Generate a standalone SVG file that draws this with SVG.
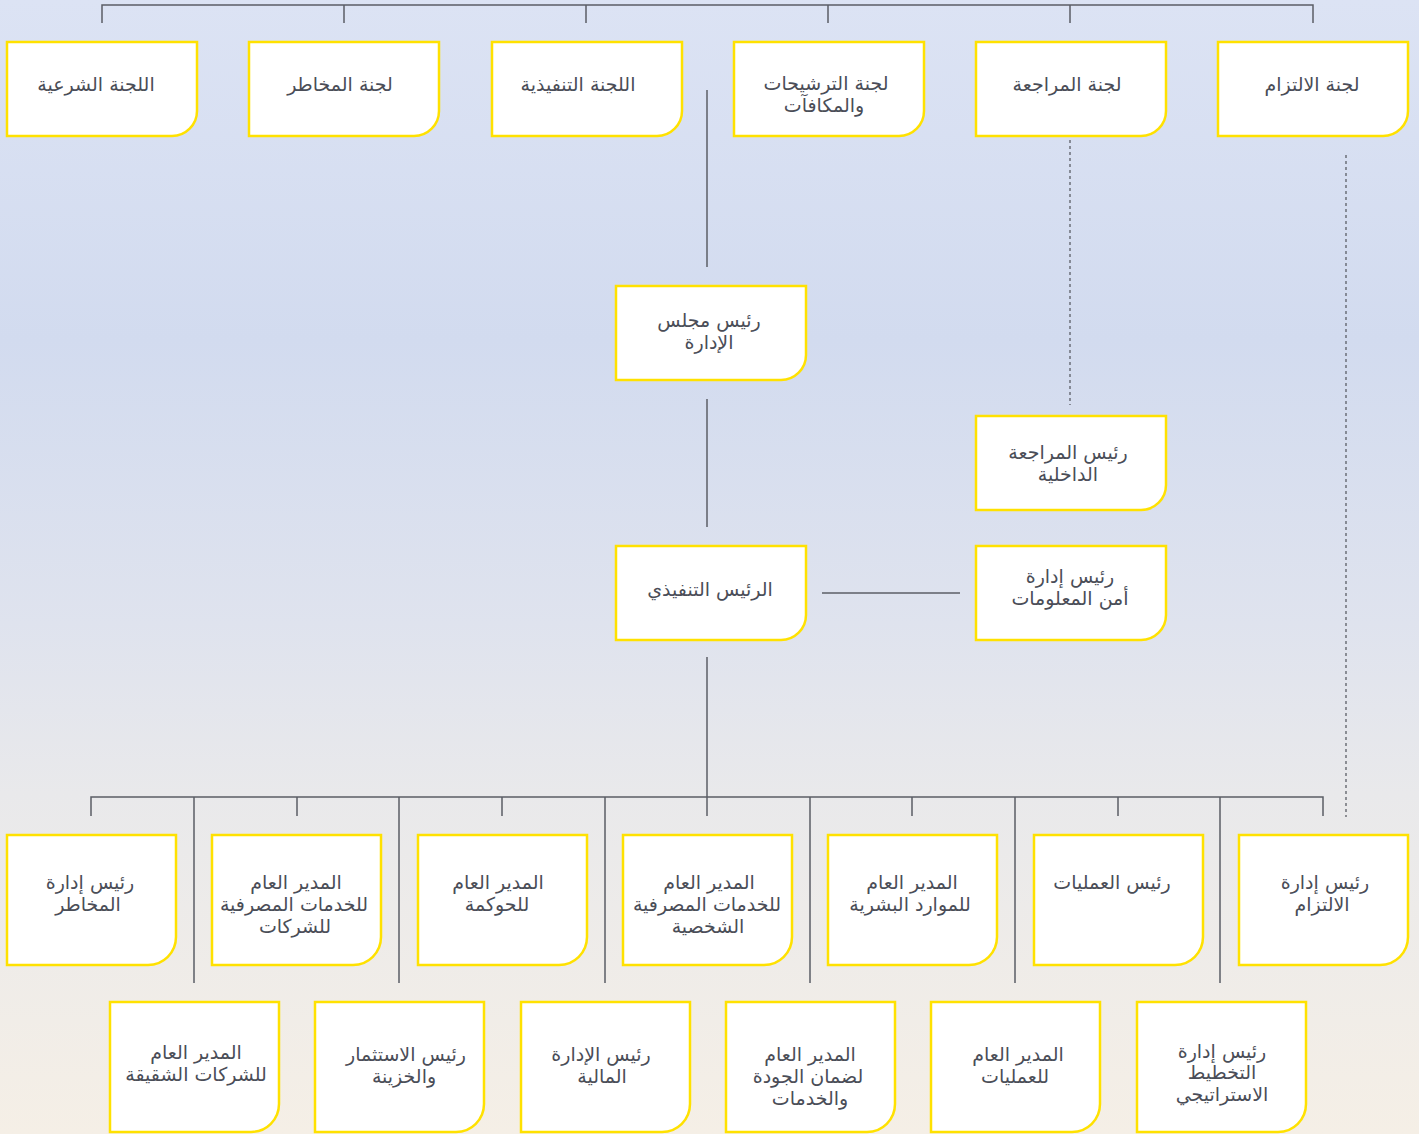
<svg xmlns="http://www.w3.org/2000/svg" xmlns:xlink="http://www.w3.org/1999/xlink" width="1419" height="1134" viewBox="0 0 1419 1134">
<style>
.box{fill:#ffffff;stroke:#ffe100;stroke-width:2.5}
.t{font-family:"DejaVu Sans","Noto Sans",sans-serif;font-size:19px;fill:#4a4d57;text-anchor:middle;direction:rtl}
.ln{fill:none;stroke:#5b5e66;stroke-width:1.5}
.dl{fill:none;stroke:#5b5e66;stroke-width:1.3;stroke-dasharray:3 3}
</style>
<defs>
<linearGradient id="bg" x1="0" y1="0" x2="0" y2="1">
<stop offset="0" stop-color="#dce3f4"/>
<stop offset="0.3" stop-color="#d2dbef"/>
<stop offset="0.55" stop-color="#dfe3ee"/>
<stop offset="0.7" stop-color="#e9e9eb"/>
<stop offset="1" stop-color="#f5efe6"/>
</linearGradient>
<path id="bA" d="M0,0 H190 V69 A25,25 0 0 1 165,94 H0 Z"/>
<path id="bB" d="M0,0 H169 V102 A28,28 0 0 1 141,130 H0 Z"/>
</defs>
<rect width="1419" height="1134" fill="url(#bg)"/>

<g id="connectors">
<path class="ln" d="M102,23 V5 H1313 V23 M344,5 V23 M586,5 V23 M828,5 V23 M1070,5 V23"/>
<path class="ln" d="M707,90 V267"/>
<path class="ln" d="M707,399 V527"/>
<path class="ln" d="M822,593 H960"/>
<path class="ln" d="M707,657 V816"/>
<path class="ln" d="M91,816 V797 H1323 V816 M297,797 V816 M502,797 V816 M912,797 V816 M1118,797 V816"/>
<path class="ln" d="M194,797 V983 M399,797 V983 M605,797 V983 M810,797 V983 M1015,797 V983 M1220,797 V983"/>
<path class="dl" d="M1070,140 V405"/>
<path class="dl" d="M1346,155 V817"/>
</g>

<g id="n-sharia"><use xlink:href="#bA" class="box" x="7" y="42"/><text class="t" x="96" y="91">اللجنة الشرعية</text></g>
<g id="n-risk-committee"><use xlink:href="#bA" class="box" x="249" y="42"/><text class="t" x="340" y="91">لجنة المخاطر</text></g>
<g id="n-executive-committee"><use xlink:href="#bA" class="box" x="492" y="42"/><text class="t" x="578" y="91">اللجنة التنفيذية</text></g>
<g id="n-nominations"><use xlink:href="#bA" class="box" x="734" y="42"/><text class="t" x="826" y="90">لجنة الترشيحات</text><text class="t" x="824" y="112">والمكافآت</text></g>
<g id="n-audit-committee"><use xlink:href="#bA" class="box" x="976" y="42"/><text class="t" x="1067" y="91">لجنة المراجعة</text></g>
<g id="n-compliance-committee"><use xlink:href="#bA" class="box" x="1218" y="42"/><text class="t" x="1312" y="91">لجنة الالتزام</text></g>

<g id="n-chairman"><use xlink:href="#bA" class="box" x="616" y="286"/><text class="t" x="709" y="327">رئيس مجلس</text><text class="t" x="709" y="349">الإدارة</text></g>
<g id="n-ceo"><use xlink:href="#bA" class="box" x="616" y="546"/><text class="t" x="710" y="596">الرئيس التنفيذي</text></g>
<g id="n-internal-audit"><use xlink:href="#bA" class="box" x="976" y="416"/><text class="t" x="1068" y="459">رئيس المراجعة</text><text class="t" x="1068" y="481">الداخلية</text></g>
<g id="n-infosec"><use xlink:href="#bA" class="box" x="976" y="546"/><text class="t" x="1070" y="583">رئيس إدارة</text><text class="t" x="1070" y="605">أمن المعلومات</text></g>

<g id="n-risk-head"><use xlink:href="#bB" class="box" x="7" y="835"/><text class="t" x="90" y="889">رئيس إدارة</text><text class="t" x="88" y="911">المخاطر</text></g>
<g id="n-corporate-banking"><use xlink:href="#bB" class="box" x="212" y="835"/><text class="t" x="296" y="889">المدير العام</text><text class="t" x="294" y="911">للخدمات المصرفية</text><text class="t" x="295" y="933">للشركات</text></g>
<g id="n-governance"><use xlink:href="#bB" class="box" x="418" y="835"/><text class="t" x="498" y="889">المدير العام</text><text class="t" x="497" y="911">للحوكمة</text></g>
<g id="n-retail-banking"><use xlink:href="#bB" class="box" x="623" y="835"/><text class="t" x="709" y="889">المدير العام</text><text class="t" x="707" y="911">للخدمات المصرفية</text><text class="t" x="708" y="933">الشخصية</text></g>
<g id="n-hr"><use xlink:href="#bB" class="box" x="828" y="835"/><text class="t" x="912" y="889">المدير العام</text><text class="t" x="910" y="911">للموارد البشرية</text></g>
<g id="n-operations-head"><use xlink:href="#bB" class="box" x="1034" y="835"/><text class="t" x="1112" y="889">رئيس العمليات</text></g>
<g id="n-compliance-head"><use xlink:href="#bB" class="box" x="1239" y="835"/><text class="t" x="1325" y="889">رئيس إدارة</text><text class="t" x="1322" y="911">الالتزام</text></g>

<g id="n-subsidiaries"><use xlink:href="#bB" class="box" x="110" y="1002"/><text class="t" x="196" y="1059">المدير العام</text><text class="t" x="196" y="1081">للشركات الشقيقة</text></g>
<g id="n-treasury"><use xlink:href="#bB" class="box" x="315" y="1002"/><text class="t" x="406" y="1061">رئيس الاستثمار</text><text class="t" x="404" y="1083">والخزينة</text></g>
<g id="n-finance"><use xlink:href="#bB" class="box" x="521" y="1002"/><text class="t" x="601" y="1061">رئيس الإدارة</text><text class="t" x="602" y="1083">المالية</text></g>
<g id="n-quality"><use xlink:href="#bB" class="box" x="726" y="1002"/><text class="t" x="810" y="1061">المدير العام</text><text class="t" x="808" y="1083">لضمان الجودة</text><text class="t" x="810" y="1105">والخدمات</text></g>
<g id="n-operations-gm"><use xlink:href="#bB" class="box" x="931" y="1002"/><text class="t" x="1018" y="1061">المدير العام</text><text class="t" x="1015" y="1083">للعمليات</text></g>
<g id="n-strategy"><use xlink:href="#bB" class="box" x="1137" y="1002"/><text class="t" x="1222" y="1058">رئيس إدارة</text><text class="t" x="1222" y="1079">التخطيط</text><text class="t" x="1222" y="1101">الاستراتيجي</text></g>
</svg>
